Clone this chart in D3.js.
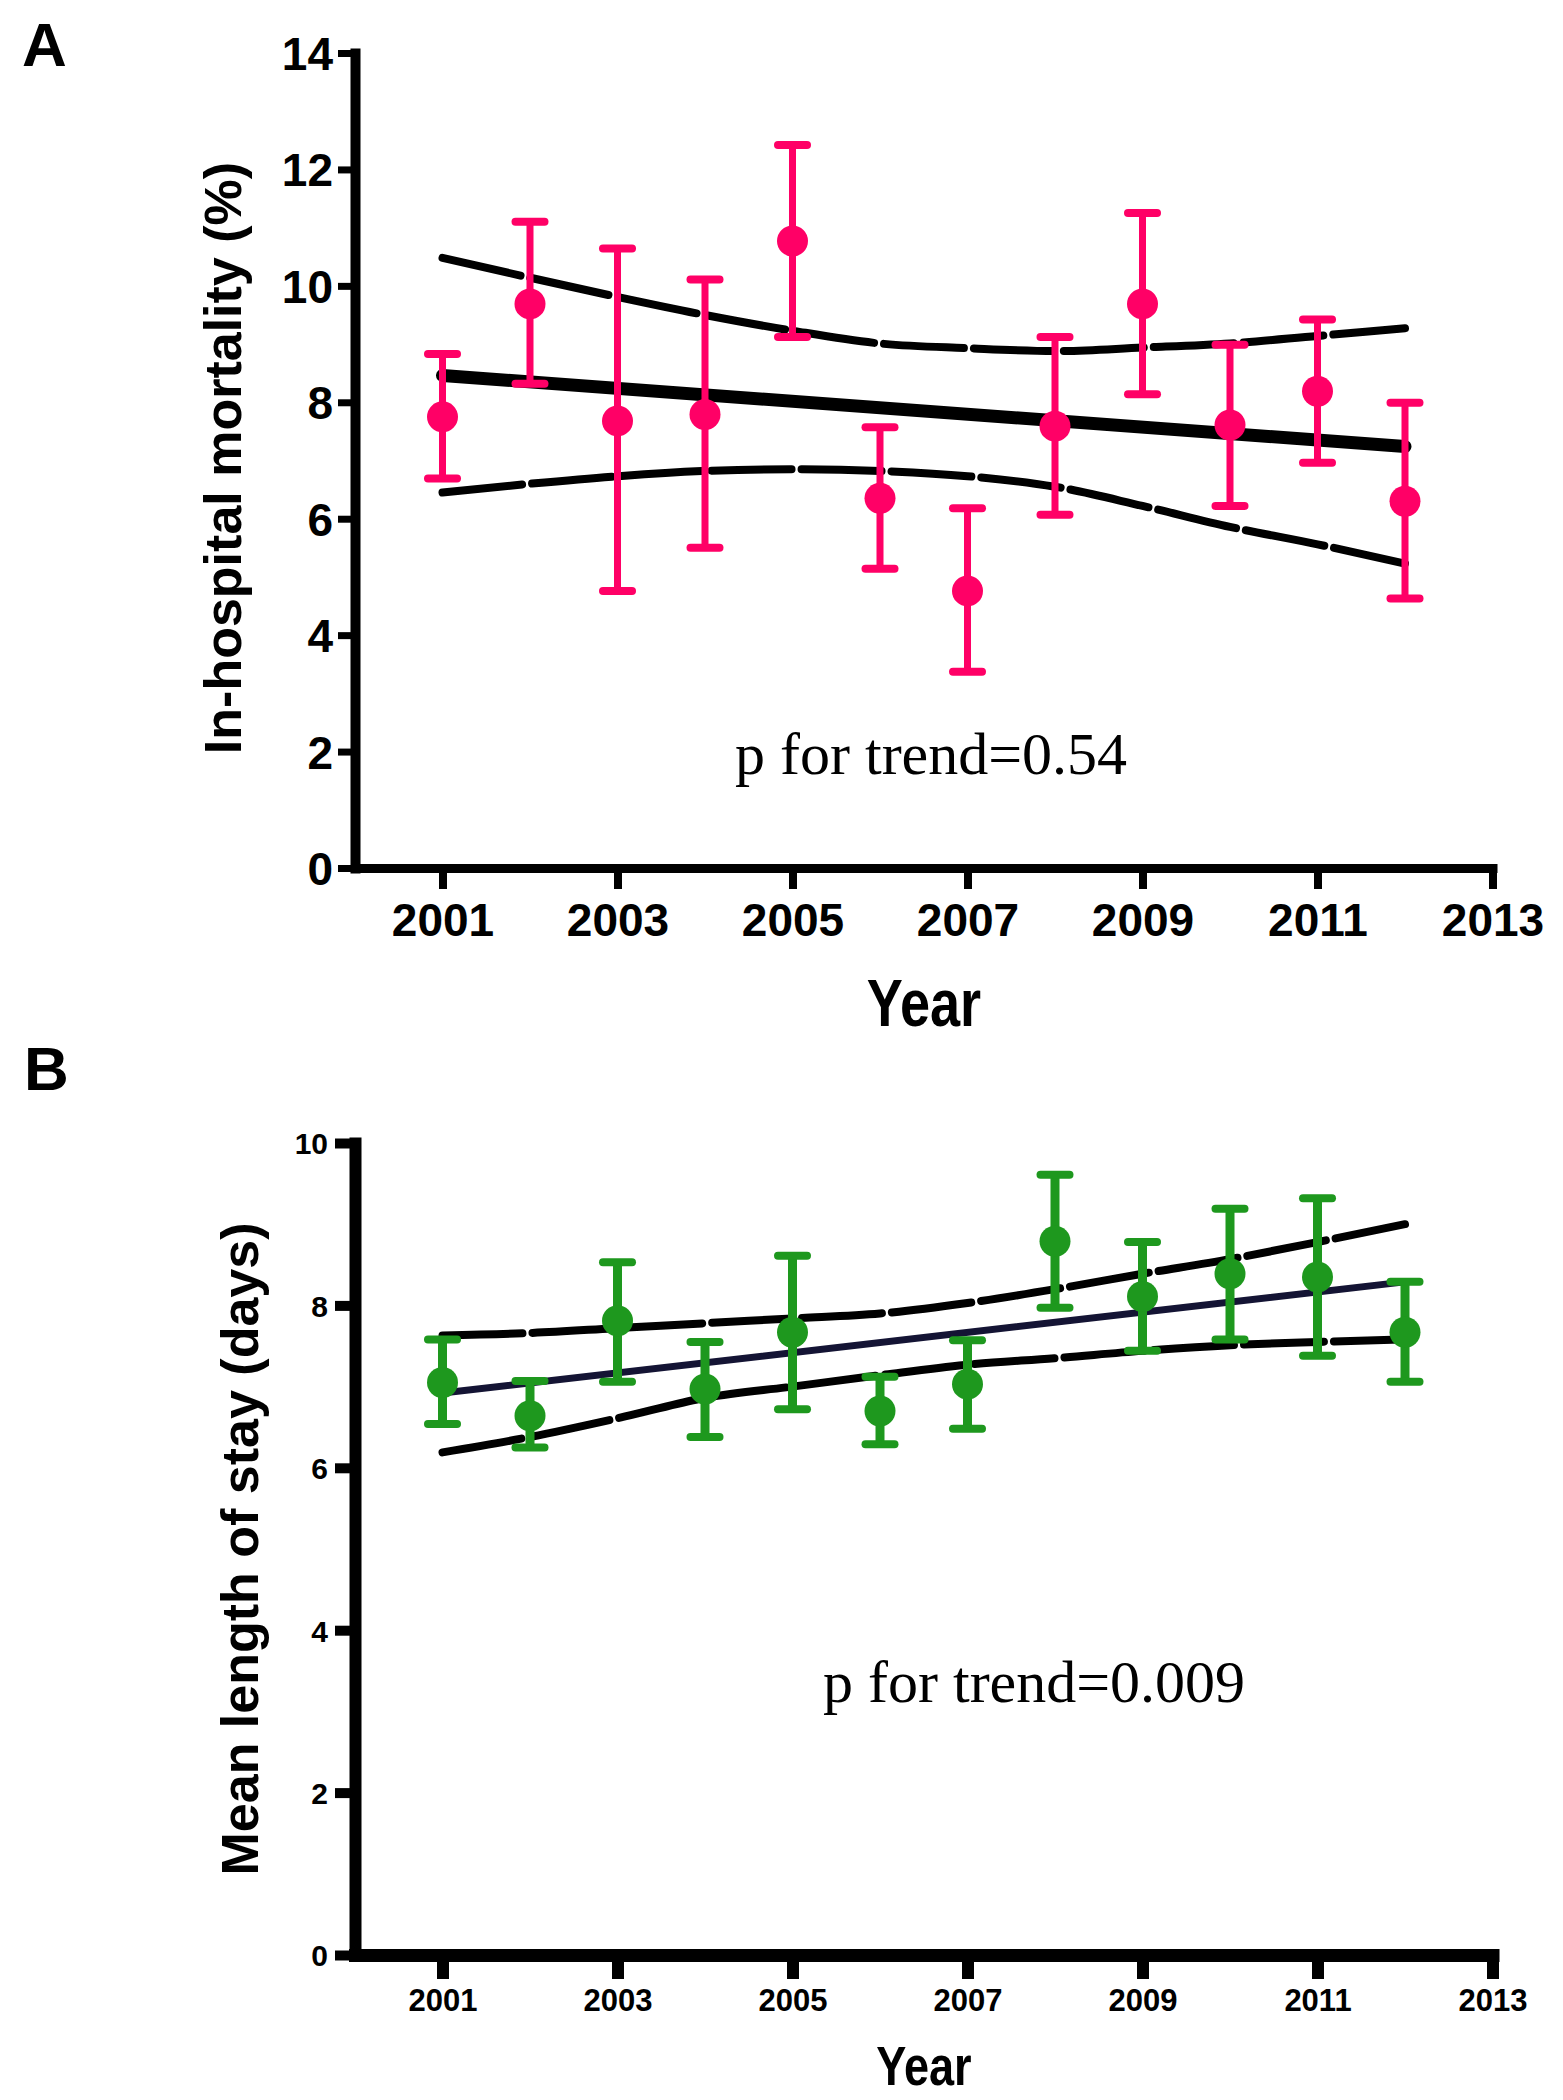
<!DOCTYPE html>
<html><head><meta charset="utf-8">
<script src="https://cdn.jsdelivr.net/npm/d3@7/dist/d3.min.js"></script>
<style>body{margin:0;background:#fff}</style>
</head><body>
<svg id="c" width="1563" height="2100"></svg>
<script>
// ---------- DATA ----------
const years = [2001,2002,2003,2004,2005,2006,2007,2008,2009,2010,2011,2012];
const xTickValues = [2001,2003,2005,2007,2009,2011,2013];

// Panel A: in-hospital mortality (%)
const mortality      = [7.75, 9.69, 7.68, 7.79, 10.77, 6.35, 4.76, 7.59, 9.69, 7.61, 8.19, 6.30];
const mortalityHigh  = [8.83, 11.10, 10.64, 10.11, 12.42, 7.57, 6.18, 9.12, 11.25, 8.99, 9.42, 7.99];
const mortalityLow   = [6.69, 8.32, 4.76, 5.50, 9.12, 5.14, 3.37, 6.07, 8.14, 6.22, 6.96, 4.63];
const mortalityFitYears = [2001, 2012];
const mortalityFit   = [8.46, 7.24];
const mortalityBandUpper = [10.48, 10.14, 9.81, 9.50, 9.23, 9.01, 8.93, 8.88, 8.94, 9.01, 9.14, 9.27];
const mortalityBandLower = [6.45, 6.60, 6.73, 6.82, 6.85, 6.82, 6.73, 6.55, 6.22, 5.86, 5.56, 5.23];
const mortalityYTicks = [0,2,4,6,8,10,12,14];

// Panel B: mean length of stay (days)
const stay      = [7.05, 6.64, 7.81, 6.97, 7.67, 6.70, 7.03, 8.79, 8.11, 8.39, 8.35, 7.67];
const stayHigh  = [7.58, 7.07, 8.53, 7.55, 8.61, 7.12, 7.57, 9.61, 8.78, 9.19, 9.32, 8.29];
const stayLow   = [6.54, 6.25, 7.06, 6.38, 6.72, 6.29, 6.48, 7.97, 7.44, 7.58, 7.38, 7.06];
const stayFitYears = [2001, 2012];
const stayFit   = [6.92, 8.29];
const stayBandUpper = [7.63, 7.66, 7.72, 7.78, 7.84, 7.90, 8.03, 8.20, 8.39, 8.57, 8.78, 9.00];
const stayBandLower = [6.19, 6.38, 6.61, 6.86, 7.00, 7.14, 7.27, 7.35, 7.44, 7.51, 7.55, 7.58];
const stayYTicks = [0,2,4,6,8,10];

// ---------- DRAW ----------
const svg = d3.select("#c");
svg.append("rect").attr("width",1563).attr("height",2100).attr("fill","#fff");
const SANS = "'Liberation Sans', Arial, sans-serif";
const SERIF = "'Liberation Serif', 'Times New Roman', serif";

function panel(o){
  const g = svg.append("g");
  const x = d3.scaleLinear().domain([2000, 2013]).range([355, 1492.5]);
  const y = d3.scaleLinear().domain(o.yDomain).range(o.yRange);

  // panel letter
  g.append("text").attr("x", o.letterX).attr("y", o.letterY)
    .attr("font-family", SANS).attr("font-weight","bold").attr("font-size", o.letterSize)
    .text(o.letter);

  // axes
  const yAxis = d3.axisLeft(y).tickValues(o.yTicks).tickFormat(d3.format("d"))
    .tickSizeOuter(0).tickSizeInner(o.yTickLen).tickPadding(o.yTickPad);
  const ya = g.append("g").attr("transform", `translate(${x(2000)},0)`).call(yAxis);
  const xAxis = d3.axisBottom(x).tickValues(xTickValues).tickFormat(d3.format("d"))
    .tickSizeOuter(0).tickSizeInner(o.xTickLen).tickPadding(o.xTickPad);
  const xa = g.append("g").attr("transform", `translate(0,${y(0)})`).call(xAxis);

  [ya, xa].forEach(a => {
    a.select(".domain").attr("stroke","#000").attr("stroke-linecap","square");
    a.selectAll(".tick line").attr("stroke","#000");
    a.selectAll(".tick text").attr("fill","#000").attr("font-family", SANS).attr("font-weight","bold");
  });
  ya.select(".domain").attr("stroke-width", o.yAxisW);
  xa.select(".domain").attr("stroke-width", o.xAxisW);
  ya.selectAll(".tick line").attr("stroke-width", o.yTickW);
  xa.selectAll(".tick line").attr("stroke-width", o.xTickW);
  ya.selectAll(".tick text").attr("font-size", o.yTickFont).attr("dy","0.36em");
  xa.selectAll(".tick text").attr("font-size", o.xTickFont);

  // axis titles
  g.append("g").attr("transform", `translate(${o.xTitleX},${o.xTitleY}) scale(0.82,1)`)
    .append("text").attr("text-anchor","middle")
    .attr("font-family", SANS).attr("font-weight","bold").attr("font-size", o.xTitleSize)
    .text("Year");
  g.append("text").attr("transform", `translate(${o.yTitleX},${o.yTitleY}) rotate(-90)`)
    .attr("text-anchor","middle")
    .attr("font-family", SANS).attr("font-weight","bold").attr("font-size", o.yTitleSize)
    .text(o.yTitle);

  // confidence bands (long dashes, tiny gaps)
  const band = d3.line().x((d,i)=>x(years[i])).y(d=>y(d)).curve(d3.curveMonotoneX);
  [o.bandUpper, o.bandLower].forEach(b => {
    g.append("path").attr("d", band(b)).attr("fill","none")
      .attr("stroke","#000").attr("stroke-width", 8)
      .attr("stroke-dasharray","80,10").attr("stroke-linecap","round");
  });
  // regression line
  const fit = d3.line().x((d,i)=>x(o.fitYears[i])).y(d=>y(d));
  g.append("path").attr("d", fit(o.fit)).attr("fill","none")
    .attr("stroke", o.fitColor).attr("stroke-width", o.fitW).attr("stroke-linecap","round");

  // error bars + points
  const bars = g.append("g").selectAll("g").data(years).join("g");
  bars.append("line")
    .attr("x1", d=>x(d)).attr("x2", d=>x(d))
    .attr("y1", (d,i)=>y(o.low[i])).attr("y2", (d,i)=>y(o.high[i]))
    .attr("stroke", o.color).attr("stroke-width", o.stemW);
  ["high","low"].forEach(k => {
    bars.append("line")
      .attr("x1", d=>x(d)-14.5).attr("x2", d=>x(d)+14.5)
      .attr("y1", (d,i)=>y(o[k][i])).attr("y2", (d,i)=>y(o[k][i]))
      .attr("stroke", o.color).attr("stroke-width", 8).attr("stroke-linecap","round");
  });
  bars.append("circle").attr("cx", d=>x(d)).attr("cy", (d,i)=>y(o.values[i]))
    .attr("r", 15.5).attr("fill", o.color);

  // p for trend
  g.append("text").attr("x", o.pX).attr("y", o.pY)
    .attr("font-family", SERIF).attr("font-size", 60).attr("fill","#000")
    .text(o.pText);
}

panel({
  letter:"A", letterX:22, letterY:66, letterSize:62,
  yDomain:[0,14], yRange:[868,53], yTicks:mortalityYTicks,
  yTickLen:17, yTickPad:5, yTickW:7, yAxisW:10, yTickFont:46,
  xTickLen:21, xTickPad:14, xTickW:8, xAxisW:9, xTickFont:46,
  xTitleX:924, xTitleY:1026, xTitleSize:66,
  yTitleX:241, yTitleY:458, yTitleSize:52, yTitle:"In-hospital mortality (%)",
  values:mortality, high:mortalityHigh, low:mortalityLow,
  bandUpper:mortalityBandUpper, bandLower:mortalityBandLower,
  fitYears:mortalityFitYears, fit:mortalityFit, fitColor:"#000", fitW:13,
  color:"#FF0066", stemW:7,
  pX:735, pY:774, pText:"p for trend=0.54"
});

panel({
  letter:"B", letterX:24, letterY:1090, letterSize:62,
  yDomain:[0,10], yRange:[1955,1143], yTicks:stayYTicks,
  yTickLen:20, yTickPad:7, yTickW:10, yAxisW:12, yTickFont:30,
  xTickLen:24, xTickPad:10, xTickW:12, xAxisW:13, xTickFont:31,
  xTitleX:924, xTitleY:2085, xTitleSize:55,
  yTitleX:258, yTitleY:1549, yTitleSize:52, yTitle:"Mean length of stay (days)",
  values:stay, high:stayHigh, low:stayLow,
  bandUpper:stayBandUpper, bandLower:stayBandLower,
  fitYears:stayFitYears, fit:stayFit, fitColor:"#141434", fitW:7,
  color:"#1E981E", stemW:9,
  pX:823, pY:1702, pText:"p for trend=0.009"
});
</script>
</body></html>
